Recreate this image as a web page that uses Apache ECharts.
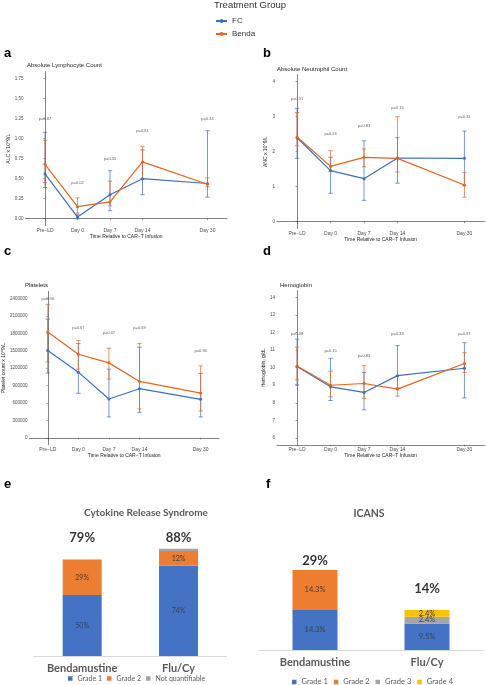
<!DOCTYPE html>
<html><head><meta charset="utf-8">
<script src="https://cdn.jsdelivr.net/npm/echarts@6/dist/echarts.min.js"></script>
<style>html,body{margin:0;padding:0;background:#fff}#c{width:486px;height:685px}</style>
</head><body><div id="c"></div>
<script>
// ---------- data ----------
const timeLabels = ['Pre\u2212LD', 'Day 0', 'Day 7', 'Day 14', 'Day 30'];
const timeSlots = [0, 1, 2, 3, 5];

const alcFC = [0.56, 0.02, 0.30, 0.50, 0.44];
const alcFCLow = [0.39, 0.00, 0.10, 0.30, 0.27];
const alcFCHigh = [1.08, 0.05, 0.60, 0.86, 1.10];
const alcBenda = [0.68, 0.15, 0.21, 0.71, 0.43];
const alcBendaLow = [0.45, 0.07, 0.16, 0.50, 0.40];
const alcBendaHigh = [0.98, 0.26, 0.47, 0.90, 0.51];
const alcP = ['p=0.87', 'p=0.02', 'p=0.35', 'p=0.81', 'p=0.34'];
const alcPY = [1.25, 0.45, 0.75, 1.10, 1.25];
const alcTicks = [0, 0.25, 0.5, 0.75, 1.0, 1.25, 1.5, 1.75];

const ancFC = [2.40, 1.46, 1.23, 1.82, 1.81];
const ancFCLow = [1.81, 0.81, 0.61, 1.10, 1.03];
const ancFCHigh = [3.24, 1.84, 2.31, 2.40, 2.59];
const ancBenda = [2.42, 1.58, 1.84, 1.81, 1.05];
const ancBendaLow = [2.17, 1.43, 1.57, 1.42, 0.70];
const ancBendaHigh = [3.12, 2.03, 2.08, 3.00, 1.41];
const ancP = ['p=0.31', 'p=0.24', 'p=0.83', 'p=0.15', 'p=0.31'];
const ancPY = [3.5, 2.5, 2.75, 3.25, 3.0];
const ancTicks = [0, 1, 2, 3, 4];

const pltFC = [1503000, 1131000, 669000, 846000, 663000];
const pltFCLow = [1116000, 766000, 360000, 440000, 360000];
const pltFCHigh = [2044000, 1623000, 1183000, 1560000, 1109000];
const pltBenda = [1822000, 1440000, 1291000, 971000, 771000];
const pltBendaLow = [1304000, 1183000, 1011000, 497000, 463000];
const pltBendaHigh = [2300000, 1674000, 1543000, 1623000, 1240000];
const pltP = ['p=0.96', 'p=0.67', 'p=0.07', 'p=0.69', 'p=0.96'];
const pltPY = [2400000, 1900000, 1800000, 1900000, 1500000];
const pltTicks = [0, 300000, 600000, 900000, 1200000, 1500000, 1800000, 2100000, 2400000];

const hgbFC = [10.07, 8.91, 8.59, 9.55, 9.97];
const hgbFCLow = [9.02, 8.13, 7.60, 8.85, 8.28];
const hgbFCHigh = [11.64, 10.54, 9.73, 11.26, 11.43];
const hgbBenda = [10.10, 9.00, 9.10, 8.78, 10.24];
const hgbBendaLow = [9.31, 8.34, 8.25, 8.38, 9.73];
const hgbBendaHigh = [11.17, 9.80, 10.12, 9.54, 10.86];
const hgbP = ['p=0.38', 'p=0.15', 'p=0.83', 'p=0.33', 'p=0.87'];
const hgbPY = [11.95, 10.95, 10.7, 11.95, 11.95];
const hgbTicks = [6, 7, 8, 9, 10, 11, 12, 13, 14];

const armGroups = ['Bendamustine', 'Flu/Cy'];
const crsGrade1 = [50, 74];
const crsGrade2 = [29, 12];
const crsNotQuant = [0, 2];
const crsTotal = ['79%', '88%'];
const crsTotalY = [96.7, 96.7];

const icansGrade1 = [14.3, 9.5];
const icansGrade2 = [14.3, 0];
const icansGrade3 = [0, 2.4];
const icansGrade4 = [0, 2.4];
const icansTotal = ['29%', '14%'];
const icansTotalY = [31.9, 21.7];

// ---------- styling ----------
const BLUE = '#3B6FBF', ORANGE = '#E4651F';
const GG = 'Liberation Sans';
const XL = 'Lato';

const grids = [], xAxes = [], yAxes = [], lineSeries = [], otherSeries = [];

function errRender(color) {
  return function (params, api) {
    const x = api.value(0), l = api.value(1), h = api.value(2);
    const p1 = api.coord([x, l]), p2 = api.coord([x, h]);
    const w = 2.2;
    const st = { stroke: color, lineWidth: 1, opacity: 0.7 };
    return { type: 'group', children: [
      { type: 'line', shape: { x1: p1[0], y1: p1[1], x2: p2[0], y2: p2[1] }, style: st },
      { type: 'line', shape: { x1: p1[0] - w, y1: p1[1], x2: p1[0] + w, y2: p1[1] }, style: st },
      { type: 'line', shape: { x1: p2[0] - w, y1: p2[1], x2: p2[0] + w, y2: p2[1] }, style: st }
    ]};
  };
}

function linePanel(pos, yMin, yMax, ticks, yName, nameGap, fc, fcLo, fcHi, bd, bdLo, bdHi, pTxt, pY) {
  const idx = grids.length;
  grids.push({ left: pos[0], top: pos[1], width: pos[2], height: pos[3] });
  const axisLine = { show: true, lineStyle: { color: '#333', width: 0.6 } };
  xAxes.push({
    gridIndex: idx, type: 'value', min: -0.6, max: 5.6,
    axisLine, axisTick: { show: true, length: 1.5, customValues: timeSlots, lineStyle: { color: '#333', width: 0.5 } },
    axisLabel: { customValues: timeSlots, formatter: v => timeLabels[timeSlots.indexOf(v)], fontSize: 5, color: '#4d4d4d', margin: 2, fontFamily: GG },
    splitLine: { show: false },
    name: 'Time Relative to CAR\u2212T Infusion', nameLocation: 'middle', nameGap: 8,
    nameTextStyle: { fontSize: 5, color: '#222', fontFamily: GG }
  });
  yAxes.push({
    gridIndex: idx, type: 'value', min: yMin, max: yMax,
    axisLine, axisTick: { show: true, length: 1.5, customValues: ticks, lineStyle: { color: '#333', width: 0.5 } },
    axisLabel: { customValues: ticks, fontSize: 4.5, color: '#4d4d4d', margin: 2, fontFamily: GG,
      formatter: v => (yMax < 3 ? v.toFixed(2) : String(v)) },
    splitLine: { show: false },
    name: yName, nameLocation: 'middle', nameGap: nameGap,
    nameTextStyle: { fontSize: 5, color: '#222', fontFamily: GG }
  });
  const mk = (arr) => timeSlots.map((x, i) => [x, arr[i]]);
  const mkE = (lo, hi) => timeSlots.map((x, i) => [x, lo[i], hi[i]]);
  lineSeries.push({ type: 'line', name: 'FC', xAxisIndex: idx, yAxisIndex: idx, data: mk(fc), color: BLUE,
    symbol: 'circle', symbolSize: 3, lineStyle: { width: 1.2 }, z: 3 });
  lineSeries.push({ type: 'line', name: 'Benda', xAxisIndex: idx, yAxisIndex: idx, data: mk(bd), color: ORANGE,
    symbol: 'circle', symbolSize: 3, lineStyle: { width: 1.2 }, z: 3 });
  otherSeries.push({ type: 'custom', name: 'FC', xAxisIndex: idx, yAxisIndex: idx, renderItem: errRender(BLUE), data: mkE(fcLo, fcHi), color: BLUE, z: 2, silent: true });
  otherSeries.push({ type: 'custom', name: 'Benda', xAxisIndex: idx, yAxisIndex: idx, renderItem: errRender(ORANGE), data: mkE(bdLo, bdHi), color: ORANGE, z: 2, silent: true });
  otherSeries.push({ type: 'scatter', xAxisIndex: idx, yAxisIndex: idx, symbolSize: 0, data: mk(pY), silent: true,
    label: { show: true, position: 'inside', formatter: p => pTxt[p.dataIndex], fontSize: 4, color: '#333', fontFamily: GG } });
}

linePanel([25.5, 71.7, 201.5, 154], -0.0875, 1.8375, alcTicks, 'ALC x 10^9/L', 13,
  alcFC, alcFCLow, alcFCHigh, alcBenda, alcBendaLow, alcBendaHigh, alcP, alcPY);
linePanel([277, 74.7, 207.5, 154], -0.2, 4.2, ancTicks, 'ANC x 10^9/L', 7,
  ancFC, ancFCLow, ancFCHigh, ancBenda, ancBendaLow, ancBendaHigh, ancP, ancPY);
linePanel([25, 291.5, 194, 153.3], -120000, 2520000, pltTicks, 'Platelet count x 10^9/L', 20,
  pltFC, pltFCLow, pltFCHigh, pltBenda, pltBendaLow, pltBendaHigh, pltP, pltPY);
linePanel([277, 290.7, 207.5, 154.1], 5.6, 14.4, hgbTicks, 'Hemoglobin, g/dL', 8,
  hgbFC, hgbFCLow, hgbFCHigh, hgbBenda, hgbBendaLow, hgbBendaHigh, hgbP, hgbPY);

// ---------- bar panels ----------
const C1 = '#4472C4', C2 = '#ED7D31', C3 = '#A5A5A5', C4 = '#FFC000';
function barPanel(pos, yMax, stack, layers, totals, totalY, barW, labelSize) {
  const idx = grids.length;
  grids.push({ left: pos[0], top: pos[1], width: pos[2], height: pos[3] });
  xAxes.push({ gridIndex: idx, type: 'category', data: armGroups,
    axisLine: { show: true, lineStyle: { color: '#d9d9d9', width: 1 } }, axisTick: { show: false },
    axisLabel: { fontSize: 11, fontWeight: 'bold', color: '#595959', margin: 7, fontFamily: XL } });
  yAxes.push({ gridIndex: idx, type: 'value', min: 0, max: yMax, show: false, splitLine: { show: false } });
  layers.forEach(L => {
    otherSeries.push({ type: 'bar', name: L.name, stack, xAxisIndex: idx, yAxisIndex: idx, data: L.data,
      barWidth: barW, color: L.color,
      label: { show: L.label, position: 'inside', formatter: p => (p.value ? p.value + '%' : ''),
        fontSize: labelSize, color: '#404040', fontFamily: XL } });
  });
  otherSeries.push({ type: 'scatter', xAxisIndex: idx, yAxisIndex: idx, symbolSize: 0, silent: true,
    data: armGroups.map((g, i) => [i, totalY[i]]),
    label: { show: true, position: 'inside', formatter: p => totals[p.dataIndex], fontSize: 13, fontWeight: 'bold', color: '#000', fontFamily: XL } });
}
barPanel([34, 534, 192.7, 122], 100, 'crs', [
  { name: 'Grade 1', data: crsGrade1, color: C1, label: true },
  { name: 'Grade 2', data: crsGrade2, color: C2, label: true },
  { name: 'Not quantifiable', data: crsNotQuant, color: C3, label: false }
], crsTotal, crsTotalY, 39, 7);
barPanel([259, 538, 224, 112], 40, 'icans', [
  { name: 'Grade 1', data: icansGrade1, color: C1, label: true },
  { name: 'Grade 2', data: icansGrade2, color: C2, label: true },
  { name: 'Grade 3', data: icansGrade3, color: C3, label: true },
  { name: 'Grade 4', data: icansGrade4, color: C4, label: true }
], icansTotal, icansTotalY, 45, 7.5);

const letter = (t, l, top) => ({ text: t, left: l, top: top, padding: 0, textStyle: { fontSize: 13, fontWeight: 'bold', color: '#000', fontFamily: GG } });
const ptitle = (t, l, top) => ({ text: t, left: l, top: top, padding: 0, textStyle: { fontSize: 6, fontWeight: 'normal', color: '#222', fontFamily: GG } });

const option = {
  animation: false,
  backgroundColor: '#fff',
  title: [
    { text: 'Treatment Group', left: 214, top: 0, padding: 0, textStyle: { fontSize: 9.5, fontWeight: 'normal', color: '#333', fontFamily: GG } },
    letter('a', 4, 47), letter('b', 263, 47), letter('c', 4, 245), letter('d', 263, 245),
    letter('e', 4, 478), letter('f', 266, 478),
    ptitle('Absolute Lymphocyte Count', 27, 62), ptitle('Absolute Neutrophil Count', 277, 66),
    ptitle('Platelets', 25, 282.5), ptitle('Hemoglobin', 280, 282.5),
    { text: 'Cytokine Release Syndrome', left: 146, top: 508, textAlign: 'center', padding: 0,
      textStyle: { fontSize: 10, fontWeight: 'bold', color: '#595959', fontFamily: XL } },
    { text: 'ICANS', left: 369, top: 508, textAlign: 'center', padding: 0,
      textStyle: { fontSize: 10.5, fontWeight: 'bold', color: '#595959', fontFamily: XL } }
  ],
  legend: [
    { data: ['FC', 'Benda'], orient: 'vertical', left: 215, top: 17, padding: 0, itemWidth: 11, itemHeight: 5, itemGap: 5,
      textStyle: { fontSize: 8, color: '#333', fontFamily: GG } },
    { data: ['Grade 1', 'Grade 2', 'Not quantifiable'], left: 68, top: 675, padding: 0, icon: 'rect', itemWidth: 4.5, itemHeight: 4.5, itemGap: 5,
      textStyle: { fontSize: 7, color: '#595959', fontFamily: XL } },
    { data: ['Grade 1', 'Grade 2', 'Grade 3', 'Grade 4'], left: 292, top: 678, padding: 0, icon: 'rect', itemWidth: 4.5, itemHeight: 4.5, itemGap: 6,
      textStyle: { fontSize: 7.5, color: '#595959', fontFamily: XL } }
  ],
  grid: grids, xAxis: xAxes, yAxis: yAxes, series: lineSeries.concat(otherSeries)
};
const chart = echarts.init(document.getElementById('c'), null, { renderer: 'canvas' });
chart.setOption(option);
</script></body></html>
